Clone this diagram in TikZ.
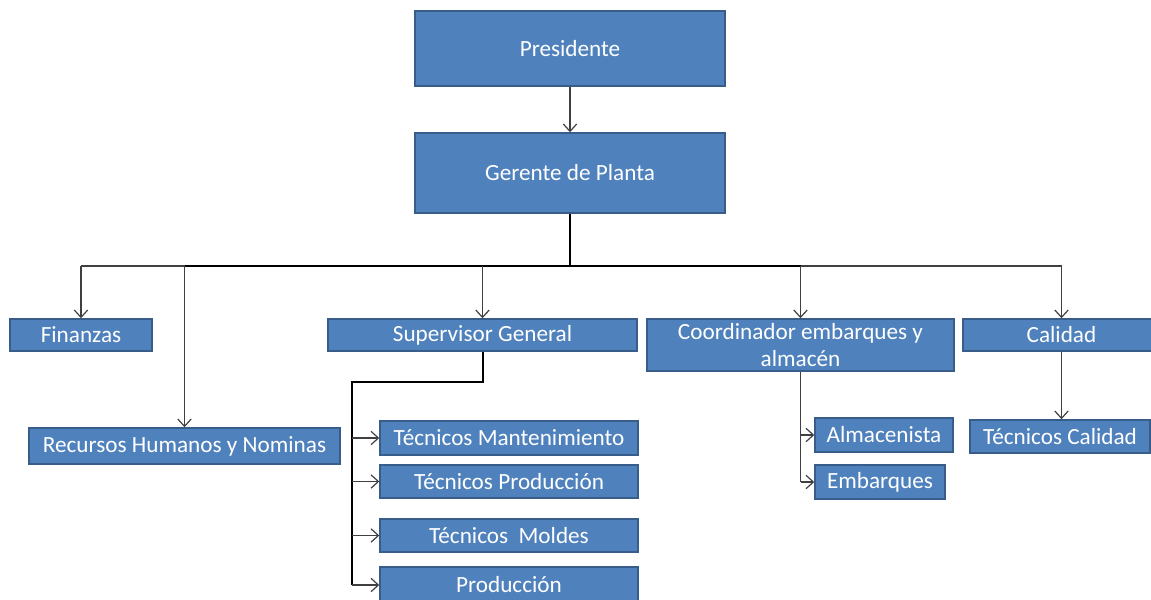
\documentclass[tikz,border=0pt]{standalone}
\usepackage{fontspec}
\setmainfont{Carlito}
\usepackage{tikz}
\usetikzlibrary{arrows.meta}
\definecolor{boxblue}{RGB}{79,129,189}
\definecolor{boxedge}{RGB}{56,93,138}

% 方框：名称, x1, y1, x2, y2, 文字（像素坐标）
\newcommand{\orgbox}[6]{%
  \node[box, minimum width={(#4-#2)*0.75pt}, minimum height={(#5-#3)*0.75pt}]
    (#1) at ({(#2+#4)/2},{(#3+#5)/2}) {#6};}

\begin{document}
\begin{tikzpicture}[x=0.75pt,y=-0.75pt,>={Straight Barb[length=5.5pt,width=10pt]},
    box/.style={draw=boxedge,fill=boxblue,line width=1.1pt,text=white,
      inner sep=0pt,align=center,font=\fontsize{17.4}{20}\selectfont},
    link/.style={draw=black!75,line width=0.9pt},
    trunk/.style={draw=black,line width=1.5pt}]
    \useasboundingbox (0,0) rectangle (1151,599);

    % 上层
    \orgbox{Presidente}{415}{11}{725}{86}{Presidente}
    \orgbox{Gerente}{415}{133}{725}{213}{Gerente de Planta}

    % 第二层
    \orgbox{Finanzas}{10}{319}{152}{351}{Finanzas}
    \orgbox{Recursos}{29}{428}{340}{464}{Recursos Humanos y Nominas}
    \orgbox{Supervisor}{328}{319}{637}{351}{Supervisor General}
    \orgbox{Coord}{647}{319}{954}{371}{Coordinador embarques y\\almacén}
    \orgbox{Calidad}{963}{319}{1160}{351}{Calidad}

    % 第三层
    \orgbox{TecMant}{380}{421}{638}{455}{Técnicos Mantenimiento}
    \orgbox{TecProd}{380}{465}{638}{498}{Técnicos Producción}
    \orgbox{TecMold}{380}{519}{638}{552}{Técnicos\ \ Moldes}
    \orgbox{Produccion}{380}{567}{638}{603}{Producción}
    \orgbox{Almacenista}{815}{418}{953}{452}{Almacenista}
    \orgbox{Embarques}{815}{465}{945}{499}{Embarques}
    \orgbox{TecCal}{970}{420}{1150}{453}{Técnicos Calidad}

    % 连线：总裁 -> 厂长
    \draw[link,->] (Presidente.south) -- (Gerente.south |- Gerente.north);

    % 厂长 -> 各部门
    \coordinate (bus) at (570,266);
    \draw[trunk] (Gerente.south) -- (bus);
    \draw[trunk] (bus -| Recursos.north) -- (bus -| Coord.north);
    \draw[link] (bus -| Finanzas.north) -- (bus -| Recursos.north);
    \draw[link] (bus -| Coord.north) -- (bus -| Calidad.north);
    \foreach \n in {Finanzas,Recursos,Supervisor,Coord,Calidad}
        \draw[link,->] (bus -| \n.north) -- (\n.north);

    % 总监 -> 技术员
    \coordinate (supknee) at (352,382);
    \draw[trunk] (Supervisor.south) |- (supknee) -- (supknee |- Produccion.west);
    \foreach \n in {TecMant,TecProd,TecMold,Produccion}
        \draw[link,->] (supknee |- \n.west) -- (\n.west);

    % 协调员 -> 仓库, 发货
    \draw[link] (Coord.south) -- (Coord.south |- Embarques.west);
    \foreach \n in {Almacenista,Embarques}
        \draw[link,->] (Coord.south |- \n.west) -- (\n.west);

    % 质量 -> 质量技术员
    \draw[link,->] (Calidad.south) -- (Calidad.south |- TecCal.north);
\end{tikzpicture}
\end{document}
